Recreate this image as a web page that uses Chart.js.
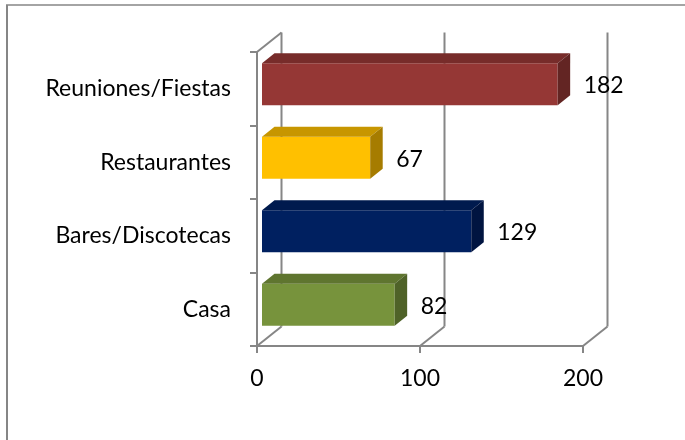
<!DOCTYPE html>
<html>
<head>
<meta charset="utf-8">
<script src="https://cdn.jsdelivr.net/npm/chart.js@4/dist/chart.umd.min.js"></script>
<style>
  html, body { margin: 0; padding: 0; background: #fff; }
  canvas { display: block; }
</style>
</head>
<body>
<canvas id="places" width="685" height="440"></canvas>
<script>
// top to bottom, as listed on the axis
const categories = ['Reuniones/Fiestas', 'Restaurantes', 'Bares/Discotecas', 'Casa']
const values = [182, 67, 129, 82]
const xTicks = [0, 100, 200]

const faceColors = ['#953735', '#ffc000', '#002060', '#77933c']
const topColors = ['#772c2a', '#c79600', '#001a4e', '#5f752f']
const sideColors = ['#632523', '#a67c00', '#001440', '#4f6228']

const lineGray = '#868686'
const fontFamily = 'Lato, "Open Sans", sans-serif'
const fontSize = 23

// depth of the whole box and of each bar (pixels, back minus front)
const wallDepth = { x: 24.5, y: -19.5 }
const barShift = { x: 4, y: -4.5 }
const barDepth = { x: 12.5, y: -10 }

function line(ctx, x1, y1, x2, y2) {
    ctx.beginPath()
    ctx.moveTo(x1, y1)
    ctx.lineTo(x2, y2)
    ctx.stroke()
}

function poly(ctx, pts, color) {
    ctx.beginPath()
    ctx.moveTo(pts[0][0], pts[0][1])
    for (let i = 1; i < pts.length; i++) ctx.lineTo(pts[i][0], pts[i][1])
    ctx.closePath()
    ctx.fillStyle = color
    ctx.fill()
}

const box3d = {
    id: 'box3d',
    beforeDraw(chart) {
        // frame around the whole chart
        const ctx = chart.ctx
        ctx.save()
        ctx.strokeStyle = lineGray
        ctx.lineWidth = 2
        line(ctx, 7, chart.height + 2, 7, 5)
        ctx.lineWidth = 1.5
        line(ctx, 6, 5, chart.width + 2, 5)
        ctx.restore()
    },
    beforeDatasetsDraw(chart) {
        const ctx = chart.ctx
        const area = chart.chartArea
        const xs = chart.scales.x
        ctx.save()
        ctx.strokeStyle = lineGray
        ctx.lineWidth = 2
        ctx.lineCap = 'butt'
        // back wall gridlines and floor edges
        xTicks.forEach(v => {
            const px = xs.getPixelForValue(v)
            line(ctx, px + wallDepth.x, area.top + wallDepth.y, px + wallDepth.x, area.bottom + wallDepth.y)
            line(ctx, px, area.bottom, px + wallDepth.x, area.bottom + wallDepth.y)
        })
        // top edge of the side wall
        line(ctx, area.left, area.top, area.left + wallDepth.x, area.top + wallDepth.y)
        ctx.restore()

        // front faces are drawn by chart.js, pushed a little into the box
        ctx.save()
        ctx.translate(barShift.x, barShift.y)
    },
    afterDatasetsDraw(chart) {
        const ctx = chart.ctx
        ctx.restore()

        const meta = chart.getDatasetMeta(0)
        meta.data.forEach((bar, i) => {
            const p = bar.getProps(['x', 'y', 'base', 'height'], true)
            const x0 = p.base + barShift.x
            const x1 = p.x + barShift.x
            const top = p.y - p.height / 2 + barShift.y
            const bottom = p.y + p.height / 2 + barShift.y
            const dx = barDepth.x, dy = barDepth.y

            poly(ctx, [[x0, top], [x1, top], [x1 + dx, top + dy], [x0 + dx, top + dy]], topColors[i])
            poly(ctx, [[x1, top], [x1 + dx, top + dy], [x1 + dx, bottom + dy], [x1, bottom]], sideColors[i])

            // value label
            ctx.save()
            ctx.fillStyle = '#000'
            ctx.font = fontSize + 'px ' + fontFamily
            ctx.textAlign = 'left'
            ctx.textBaseline = 'middle'
            ctx.fillText(String(values[i]), x1 + 26, p.y + barShift.y + 1.5)
            ctx.restore()
        })
    }
}

const ctx = document.getElementById('places').getContext('2d')
const chart = new Chart(ctx, {
    type: 'bar',
    data: {
        labels: categories,
        datasets: [{
            data: values,
            backgroundColor: faceColors,
            borderWidth: 0,
            categoryPercentage: 1,
            barPercentage: 0.57
        }]
    },
    options: {
        indexAxis: 'y',
        responsive: false,
        animation: false,
        events: [],
        layout: { padding: { left: 0, top: 52, right: 102, bottom: 0 } },
        plugins: {
            legend: { display: false },
            tooltip: { enabled: false }
        },
        scales: {
            x: {
                min: 0,
                max: 200,
                afterFit: s => { s.height = 94 },
                afterBuildTicks: s => { s.ticks = xTicks.map(v => ({ value: v })) },
                grid: { drawOnChartArea: false, drawTicks: true, tickLength: 7, color: lineGray, lineWidth: 2 },
                border: { display: true, color: lineGray, width: 2 },
                ticks: { color: '#000', padding: 12, font: { family: fontFamily, size: fontSize } }
            },
            y: {
                afterFit: s => { s.width = 257 },
                grid: { drawOnChartArea: false, drawTicks: true, tickLength: 7, color: lineGray, lineWidth: 2, offset: true },
                border: { display: true, color: lineGray, width: 2 },
                ticks: { color: '#000', padding: 19, font: { family: fontFamily, size: fontSize } }
            }
        }
    },
    plugins: [box3d]
})
</script>
</body>
</html>
